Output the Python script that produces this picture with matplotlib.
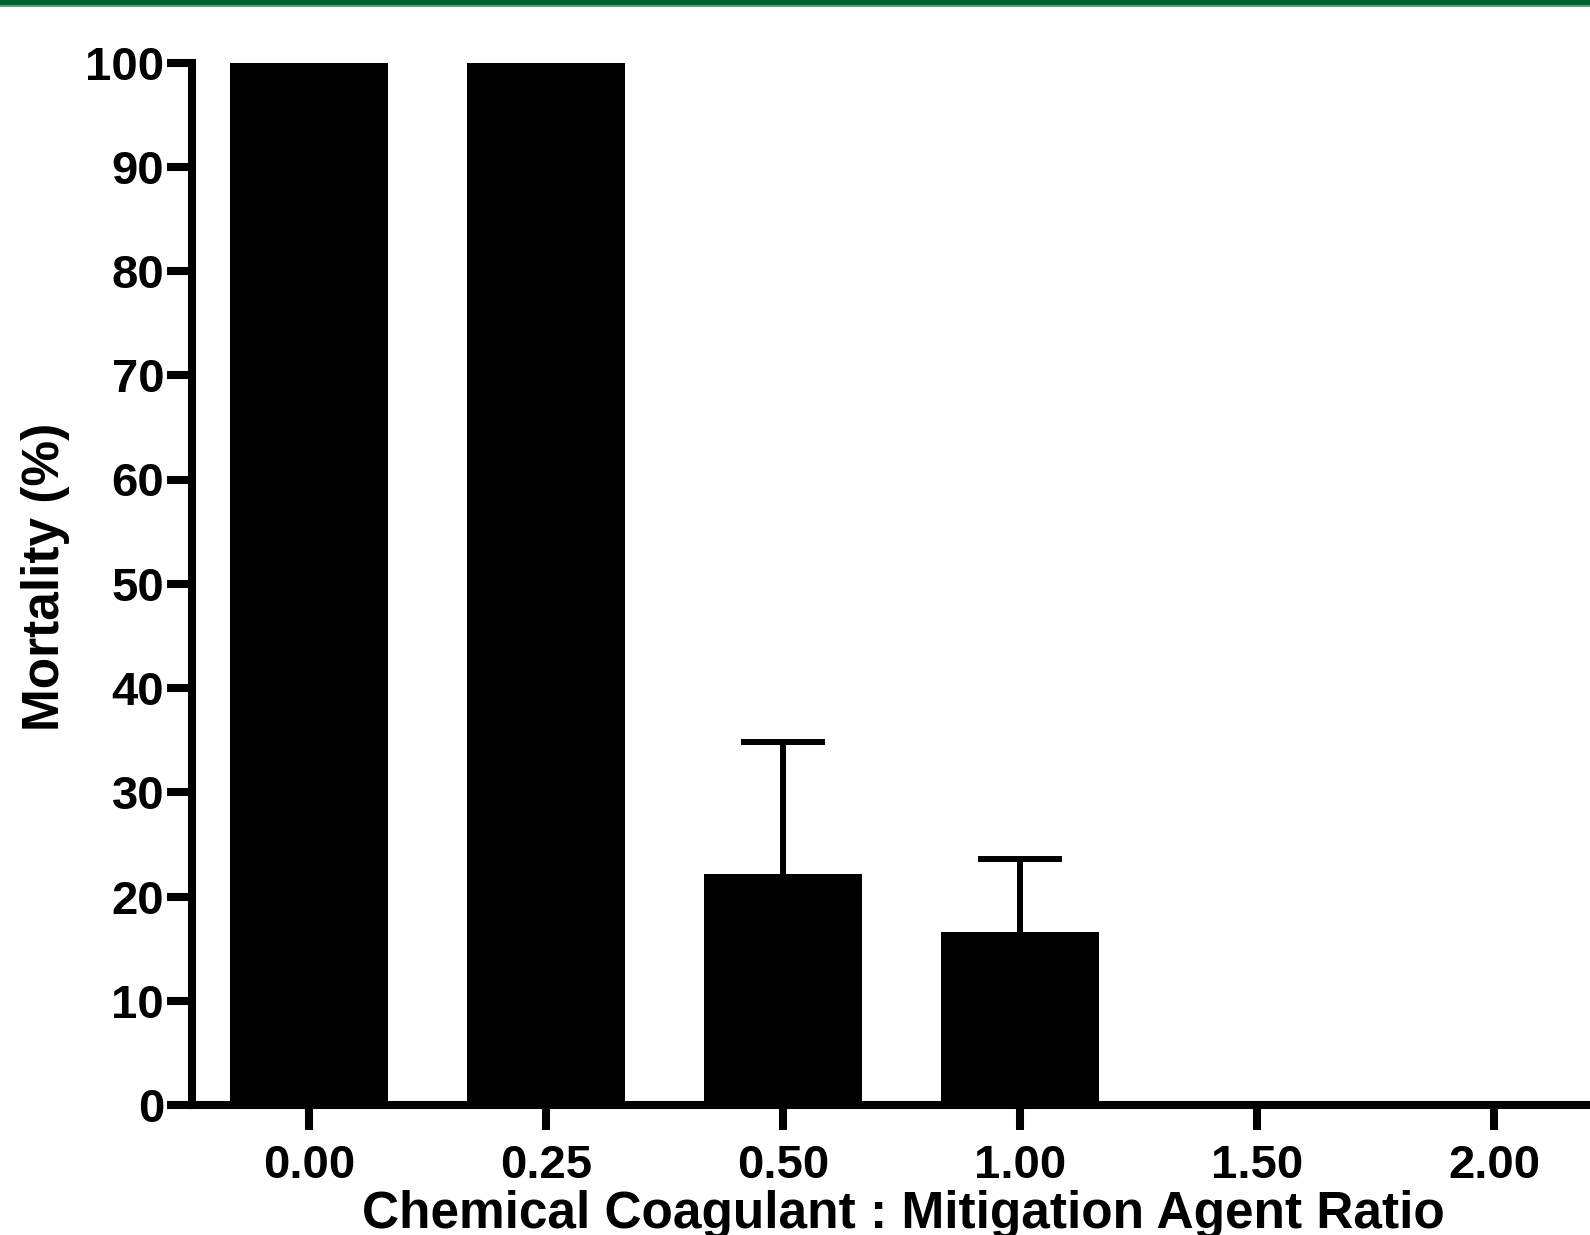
import matplotlib
matplotlib.use("Agg")
import matplotlib.pyplot as plt
from matplotlib.patches import Rectangle
import numpy as np

categories = ["0.00", "0.25", "0.50", "1.00", "1.50", "2.00"]
mortality = [100.0, 100.0, 22.2, 16.6, 0.0, 0.0]
sem_upper = [0.0, 0.0, 12.6, 7.0, 0.0, 0.0]
y_ticks = [0, 10, 20, 30, 40, 50, 60, 70, 80, 90, 100]

plt.rcParams['font.family'] = ['Liberation Sans', 'DejaVu Sans']
plt.rcParams['font.weight'] = 'bold'

W, H = 1590, 1235
fig = plt.figure(figsize=(W / 100, H / 100), dpi=100)

# green band on top
fig.patches.append(Rectangle((0, 1 - 5 / H), 1, 5 / H, transform=fig.transFigure,
                             facecolor='#00632f', edgecolor='none'))
fig.patches.append(Rectangle((0, 1 - 7 / H), 1, 2 / H, transform=fig.transFigure,
                             facecolor='#5f9e78', edgecolor='none'))

left = 192 / W
bottom = (H - 1105) / H
top = (H - 62.5) / H
ax = fig.add_axes([left, bottom, 1 - left, top - bottom])

x = np.arange(len(categories))
ax.bar(x, mortality, width=0.667, color='black', edgecolor='none', zorder=2)

idx = [i for i, e in enumerate(sem_upper) if e > 0]
ys = [mortality[i] for i in idx]
eb = ax.errorbar(x[idx], ys,
                 yerr=[[0] * len(idx), [sem_upper[i] for i in idx]],
                 fmt='none', ecolor='black', elinewidth=4.3, capsize=30, capthick=4.3,
                 zorder=1)
# hide the cap sitting at the bar top (lower error is zero)
for cl in eb[1]:
    yd = np.asarray(cl.get_ydata(), dtype=float)
    if np.allclose(yd, ys):
        cl.set_visible(False)

ax.set_xlim(-0.494, 5.405)
ax.set_ylim(0, 100)
ax.set_yticks(y_ticks)
ax.set_xticks(x)
ax.set_xticklabels(categories)

for s in ['top', 'right']:
    ax.spines[s].set_visible(False)
for s in ['left', 'bottom']:
    ax.spines[s].set_linewidth(5.8)
    ax.spines[s].set_capstyle('projecting')

ax.tick_params(axis='both', direction='out', length=18, width=5.8, labelsize=34)
ax.tick_params(axis='y', pad=2)
ax.tick_params(axis='x', pad=10)
for lab in ax.get_xticklabels() + ax.get_yticklabels():
    lab.set_fontweight('bold')

fig.text(46 / W, (H - 577) / H, "Mortality (%)", rotation=90, ha='center', va='center',
         fontsize=37, fontweight='bold')
fig.text(903 / W, (H - 1228) / H, "Chemical Coagulant : Mitigation Agent Ratio",
         ha='center', va='baseline', fontsize=37, fontweight='bold')

fig.savefig("out.png", dpi=100)
